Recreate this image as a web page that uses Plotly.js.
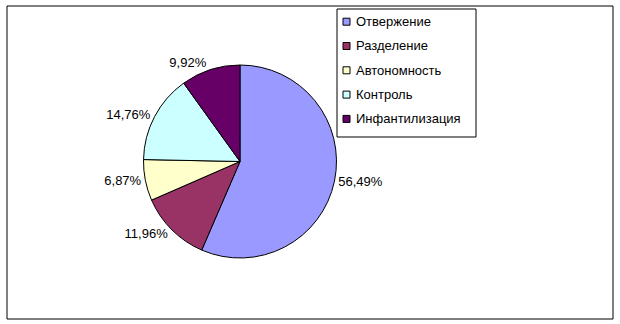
<!DOCTYPE html>
<html>
<head>
<meta charset="utf-8">
<script src="https://cdn.plot.ly/plotly-3.0.1.min.js"></script>
<style>html,body{margin:0;padding:0;background:#fff;}#chart{width:620px;height:324px;}</style>
</head>
<body>
<div id="chart"></div>
<script>
const categories = ["Отвержение", "Разделение", "Автономность", "Контроль", "Инфантилизация"];
const values = [56.49, 11.96, 6.87, 14.76, 9.92];
const colors = ["#9999FF", "#993366", "#FFFFCC", "#CCFFFF", "#660066"];

const W = 620, H = 324;
const px = x => x / W;
const py = y => 1 - y / H;
const FONT = "Liberation Sans, Arial, sans-serif";

// pie geometry (pixels)
const cx = 240, cy = 161.5, r = 96.5;

const trace = {
  type: "pie",
  labels: categories,
  values: values,
  sort: false,
  direction: "clockwise",
  rotation: 0,
  marker: { colors: colors, line: { color: "#000", width: 1 } },
  textposition: "outside",
  texttemplate: "%{percent:.2%}",
  textfont: { family: FONT, size: 13, color: "#000" },
  hoverinfo: "label+percent",
  showlegend: false,
  automargin: false,
  domain: { x: [px(cx - r), px(cx + r)], y: [py(cy + r), py(cy - r)] }
};

const shapes = [
  { type: "rect", xref: "paper", yref: "paper", x0: px(7), x1: px(613), y0: py(319), y1: py(6),
    line: { color: "#000", width: 1 }, fillcolor: "rgba(0,0,0,0)" },
  { type: "rect", xref: "paper", yref: "paper", x0: px(337), x1: px(476), y0: py(137), y1: py(9),
    line: { color: "#000", width: 1 }, fillcolor: "#fff" }
];
const annotations = [];
const rowTop = 21.7, rowStep = 24.3;
categories.forEach((c, i) => {
  const yc = rowTop + i * rowStep;
  shapes.push({ type: "rect", xref: "paper", yref: "paper",
    x0: px(343), x1: px(350), y0: py(yc + 3.5), y1: py(yc - 3.5),
    line: { color: "#000", width: 1 }, fillcolor: colors[i] });
  annotations.push({ xref: "paper", yref: "paper", x: px(354), y: py(yc),
    xanchor: "left", yanchor: "middle", showarrow: false, text: c,
    font: { family: FONT, size: 13, color: "#000" } });
});

const layout = {
  width: W, height: H,
  margin: { l: 0, r: 0, t: 0, b: 0 },
  paper_bgcolor: "#fff",
  separators: ", ",
  showlegend: false,
  shapes: shapes,
  annotations: annotations
};

Plotly.newPlot("chart", [trace], layout, { displayModeBar: false, staticPlot: true });
</script>
</body>
</html>
